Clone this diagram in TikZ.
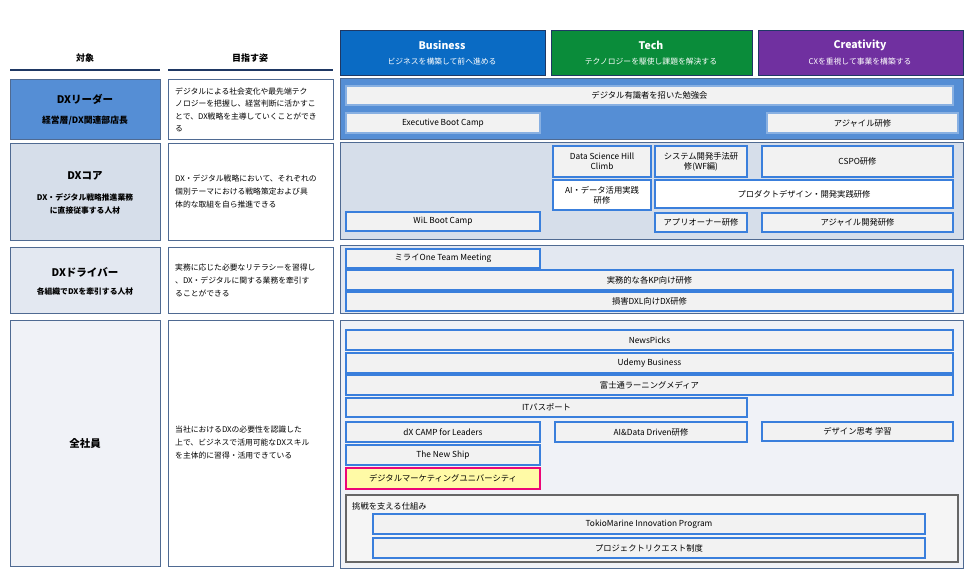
\documentclass[tikz,border=0pt]{standalone}
\usepackage{fontspec}
\setmainfont{Noto Sans CJK JP}
\definecolor{bizblue}{HTML}{0A6BC4}
\definecolor{techgreen}{HTML}{0A8C3A}
\definecolor{crepurple}{HTML}{7030A0}
\definecolor{leadblue}{HTML}{558ED5}
\definecolor{coregray}{HTML}{D6DEEA}
\definecolor{drivgray}{HTML}{E3E8F1}
\definecolor{allgray}{HTML}{F0F2F7}
\definecolor{boxblue}{HTML}{3A7FDC}
\definecolor{rulenavy}{HTML}{1F3864}
\definecolor{framegray}{HTML}{4F6A92}
\newcommand\pbox[7][]{%
  \node[prog, #1, minimum width={(#5-#3)*1pt}, minimum height={(#6-#4)*1pt}]
    (#2) at ({(#3+#5)/2},{(#4+#6)/2}) {#7};}
\begin{document}
\begin{tikzpicture}[
  x = 1pt, y = -1pt,
  prog/.style = {
    draw = boxblue, fill = black!5, line width = 1.3pt,
    inner sep = 0pt, outer sep = 0pt, align = center,
    font = \fontsize{8.3}{10}\selectfont
  },
  axis/.style = {
    draw = none, inner sep = 0pt, align = center, text = white,
    font = \fontsize{7.8}{10}\selectfont
  },
  row/.style = {draw = framegray, line width = 0.9pt},
  goal/.style = {
    inner sep = 0pt, align = left,
    font = \fontsize{7.8}{13}\selectfont
  },
  target/.style = {align = center, inner sep = 0pt},
  big/.style = {font = \bfseries\fontsize{10.5}{12}\selectfont}
]
  \useasboundingbox (0,0) rectangle (980,580);

  % column heads
  \node[font = \bfseries\fontsize{9}{10}\selectfont] (hTarget) at (85,58) {対象};
  \node[font = \bfseries\fontsize{9}{10}\selectfont] (hGoal) at (250,58) {目指す姿};
  \draw[rulenavy, line width = 2pt] (10,70) -- (160,70);
  \draw[rulenavy, line width = 2pt] (168,70) -- (333,70);

  % axes
  \draw[fill = bizblue, draw = rulenavy, line width = 0.8pt] (340,30) rectangle (545,75);
  \node[axis, big] (business) at (442,45) {Business};
  \node[axis] (bizSub) at (442,62) {ビジネスを構築して前へ進める};
  \draw[fill = techgreen, draw = rulenavy, line width = 0.8pt] (551,30) rectangle (752,75);
  \node[axis, big] (tech) at (651,45) {Tech};
  \node[axis] (techSub) at (651,62) {テクノロジーを駆使し課題を解決する};
  \draw[fill = crepurple, draw = rulenavy, line width = 0.8pt] (758,30) rectangle (963,75);
  \node[axis, big] (creativity) at (860,45) {Creativity};
  \node[axis] (creSub) at (860,62) {CXを重視して事業を構築する};

  % rows: target and goal
  \draw[row, fill = leadblue] (10,79) rectangle (160,139);
  \node[target, big] (leader) at (85,99) {DXリーダー};
  \node[target, font = \bfseries\fontsize{8.8}{10}\selectfont] (leaderSub) at (85,121) {経営層/DX関連部店長};
  \draw[row, fill = white] (168,79) rectangle (333,139);
  \node[goal, anchor = west, font = \fontsize{7.8}{12.5}\selectfont] (gLeader) at (175,110)
    {デジタルによる社会変化や最先端テク\\ノロジーを把握し、経営判断に活かすこ\\とで、DX戦略を主導していくことができ\\る};

  \draw[row, fill = coregray] (10,143) rectangle (160,240);
  \node[target, big] (core) at (85,176) {DXコア};
  \node[target, font = \bfseries\fontsize{7.8}{13}\selectfont] (coreSub) at (85,204)
    {DX・デジタル戦略推進業務\\に直接従事する人材};
  \draw[row, fill = white] (168,143) rectangle (333,240);
  \node[goal, anchor = west] (gCore) at (175,191)
    {DX・デジタル戦略において、それぞれの\\個別テーマにおける戦略策定および具\\体的な取組を自ら推進できる};

  \draw[row, fill = drivgray] (10,247) rectangle (160,313);
  \node[target, big] (driver) at (85,272) {DXドライバー};
  \node[target, font = \bfseries\fontsize{7.8}{10}\selectfont] (driverSub) at (85,292) {各組織でDXを牽引する人材};
  \draw[row, fill = white] (168,247) rectangle (333,313);
  \node[goal, anchor = west] (gDriver) at (175,280)
    {実務に応じた必要なリテラシーを習得し\\、DX・デジタルに関する業務を牽引す\\ることができる};

  \draw[row, fill = allgray] (10,320) rectangle (160,566);
  \node[target, big] (all) at (85,443) {全社員};
  \draw[row, fill = white] (168,320) rectangle (333,566);
  \node[goal, anchor = west] (gAll) at (175,443)
    {当社におけるDXの必要性を認識した\\上で、ビジネスで活用可能なDXスキル\\を主体的に習得・活用できている};

  % programme panels
  \draw[row, fill = leadblue] (340,78) rectangle (963,139);
  \draw[row, fill = coregray] (340,142) rectangle (963,239);
  \draw[row, fill = drivgray] (340,245) rectangle (963,313);
  \draw[row, fill = allgray] (340,320) rectangle (963,568);

  % leader programmes
  \pbox[draw = leadblue!70!white]{pStudy}{346}{86}{953}{105}{デジタル有識者を招いた勉強会}
  \pbox[draw = leadblue!70!white]{pExec}{346}{113}{540}{133}{Executive Boot Camp}
  \pbox[draw = leadblue!70!white]{pAgileL}{767}{113}{958}{133}{アジャイル研修}

  % core programmes
  \pbox{pHill}{553}{146}{651}{177}{Data Science Hill\\Climb}
  \pbox{pWF}{655}{146}{747}{177}{システム開発手法研\\修(WF編)}
  \pbox{pCSPO}{762}{146}{953}{177}{CSPO研修}
  \pbox[fill = white]{pAIdata}{553}{180}{651}{210}{AI・データ活用実践\\研修}
  \pbox[fill = white]{pProduct}{655}{180}{953}{208}{プロダクトデザイン・開発実践研修}
  \pbox{pWiL}{346}{212}{540}{231}{WiL Boot Camp}
  \pbox{pOwner}{655}{213}{747}{232}{アプリオーナー研修}
  \pbox{pAgileD}{762}{213}{953}{232}{アジャイル開発研修}

  % driver programmes
  \pbox{pMirai}{346}{249}{540}{268}{ミライOne Team Meeting}
  \pbox{pKP}{346}{270}{953}{290}{実務的な各KP向け研修}
  \pbox{pDXL}{346}{292}{953}{311}{損害DXL向けDX研修}

  % company-wide programmes
  \pbox{pNews}{346}{330}{953}{350}{NewsPicks}
  \pbox{pUdemy}{346}{353}{953}{373}{Udemy Business}
  \pbox{pFujitsu}{346}{375}{953}{395}{富士通ラーニングメディア}
  \pbox{pIT}{346}{398}{747}{417}{ITパスポート}
  \pbox{pCamp}{346}{422}{540}{442}{dX CAMP for Leaders}
  \pbox{pAIDD}{555}{422}{747}{442}{AI\&Data Driven研修}
  \pbox{pDesign}{762}{422}{953}{441}{デザイン思考 学習}
  \pbox{pShip}{346}{445}{540}{465}{The New Ship}
  \pbox[draw = magenta!80!red, fill = yellow!35, line width = 1.8pt]{pMarket}{346}{468}{540}{489}{デジタルマーケティングユニバーシティ}

  \draw[draw = black!60, line width = 1.3pt, fill = black!4] (346,495) rectangle (958,562);
  \node[anchor = west, font = \fontsize{8.3}{10}\selectfont, inner sep = 0pt] (challenge) at (352,506) {挑戦を支える仕組み};
  \pbox{pTokio}{373}{514}{925}{534}{TokioMarine Innovation Program}
  \pbox{pRequest}{373}{538}{925}{558}{プロジェクトリクエスト制度}
\end{tikzpicture}
\end{document}
